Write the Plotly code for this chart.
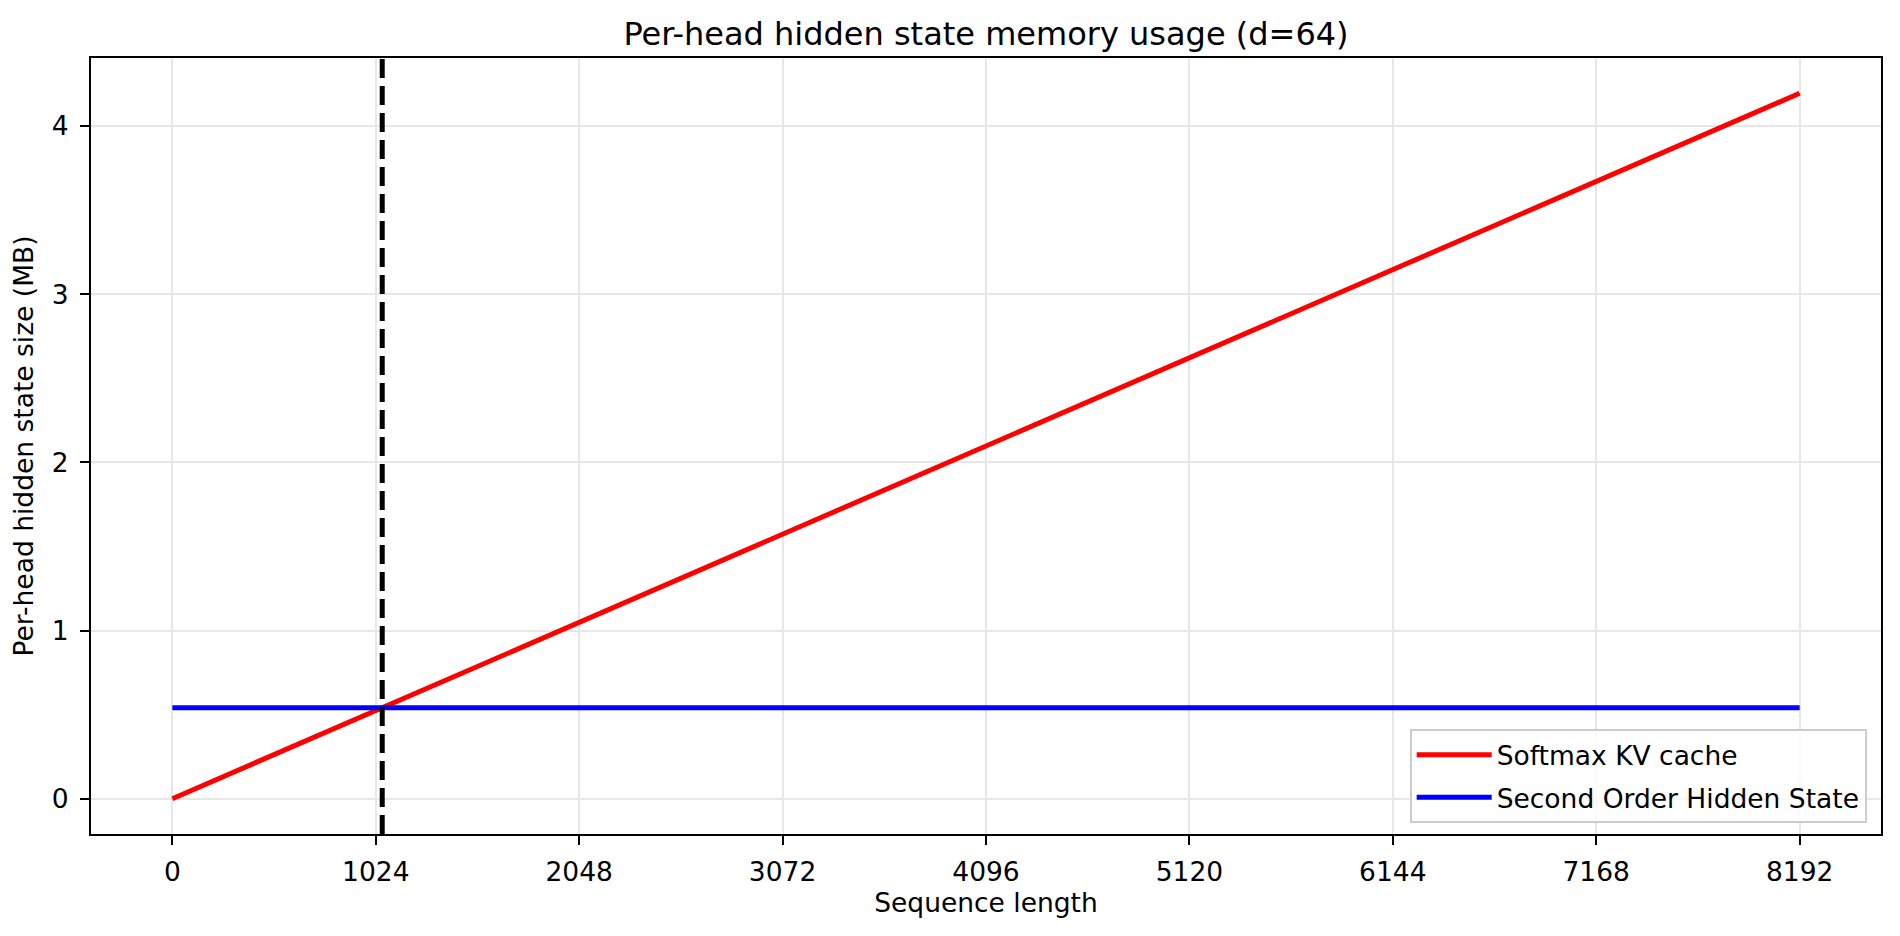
import plotly.graph_objects as go

# Data
seq_len = [0, 8192]
kv_cache_mb = [0.0, 4.195]
hidden_state_mb = [0.541, 0.541]
x_ticks = [0, 1024, 2048, 3072, 4096, 5120, 6144, 7168, 8192]
y_ticks = [0, 1, 2, 3, 4]

# crossover where the KV cache overtakes the fixed hidden state
slope = (kv_cache_mb[1] - kv_cache_mb[0]) / (seq_len[1] - seq_len[0])
crossover = hidden_state_mb[0] / slope

FONT = "DejaVu Sans"
TXT = 26.5     # ticks, axis labels, legend
TITLE = 32
# page body adds an 8px margin, so the figure is 16px smaller than the window
W, H = 1884, 920
L, T = 83, 50
PW, PH = 1790, 776
R, B = W - L - PW, H - T - PH

x_pad = (seq_len[-1] - seq_len[0]) * 0.05
y_lo = min(kv_cache_mb + hidden_state_mb)
y_hi = max(kv_cache_mb + hidden_state_mb)
y_pad = (y_hi - y_lo) * 0.05

fig = go.Figure()

fig.add_trace(go.Scatter(
    x=seq_len, y=kv_cache_mb, mode='lines', name='Softmax KV cache',
    legendgroup='kv', line=dict(color='#ff0000', width=5)
))
fig.add_trace(go.Scatter(
    x=seq_len, y=hidden_state_mb, mode='lines', name='Second Order Hidden State',
    legendgroup='hidden', line=dict(color='#0000ff', width=5)
))

# vertical dashed marker at the crossover
fig.add_vline(x=crossover, line=dict(color='black', width=5, dash='19px,8px'))

fig.update_layout(
    width=W, height=H,
    margin=dict(l=L, r=R, t=T, b=B, autoexpand=False),
    paper_bgcolor='white', plot_bgcolor='white',
    font=dict(family=FONT, size=TXT, color='black'),
    title=dict(
        text='Per-head hidden state memory usage (d=64)',
        font=dict(family=FONT, size=TITLE, color='black'),
        x=(L + PW / 2) / W, xanchor='center', xref='container',
        y=1 - 26 / H, yanchor='middle', yref='container'
    ),
    showlegend=True,
    legend=dict(
        x=0.992, y=0.014, xanchor='right', yanchor='bottom',
        bgcolor='rgba(255,255,255,0.8)', bordercolor='#cccccc', borderwidth=2,
        font=dict(family=FONT, size=TXT, color='black'),
        tracegroupgap=5, itemwidth=75
    ),
)

fig.update_xaxes(
    range=[seq_len[0] - x_pad, seq_len[-1] + x_pad],
    tickmode='array', tickvals=x_ticks, ticktext=[str(v) for v in x_ticks],
    showgrid=True, gridcolor='#e7e7e7', gridwidth=2,
    showline=True, linecolor='black', linewidth=2, mirror=True,
    ticks='outside', ticklen=9, tickwidth=2, tickcolor='black',
    ticklabelstandoff=4,
    zeroline=False, automargin=False,
    title=dict(text='Sequence length', font=dict(family=FONT, size=TXT), standoff=8)
)
fig.update_yaxes(
    range=[y_lo - y_pad, y_hi + y_pad],
    tickmode='array', tickvals=y_ticks, ticktext=[str(v) for v in y_ticks],
    showgrid=True, gridcolor='#e7e7e7', gridwidth=2,
    showline=True, linecolor='black', linewidth=2, mirror=True,
    ticks='outside', ticklen=9, tickwidth=2, tickcolor='black',
    ticklabelstandoff=6,
    zeroline=False, automargin=False,
    title=dict(text='Per-head hidden state size (MB)', font=dict(family=FONT, size=TXT), standoff=12)
)

fig.write_html("out.html")
